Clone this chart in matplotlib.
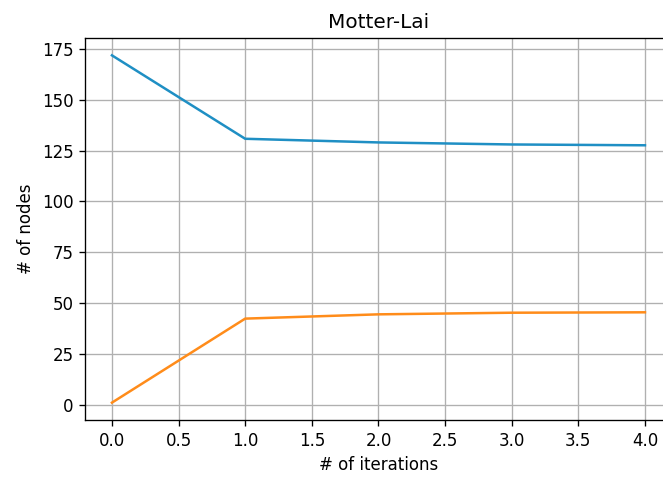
import matplotlib
matplotlib.use("Agg")
import matplotlib.pyplot as plt

iterations = [0, 1, 2, 3, 4]
series_a = [171.8, 130.8, 129.0, 128.0, 127.6]
series_b = [1.1, 42.4, 44.5, 45.3, 45.5]

W, H = 663, 477
fig = plt.figure(figsize=(W/120, H/120), dpi=120)
ax = fig.add_axes([85.3/W, 1-420/H, 586.3/W, 382/H])
ax.plot(iterations, series_a, color="#1f8fc4")
ax.plot(iterations, series_b, color="#ff8c1a")
ax.set_title("Motter-Lai")
ax.set_xlabel("# of iterations")
ax.set_ylabel("# of nodes")
ax.set_xlim(-0.2, 4.2)
ax.spines["right"].set_visible(False)
ax.grid(True)
fig.savefig("out.png", dpi=120)
